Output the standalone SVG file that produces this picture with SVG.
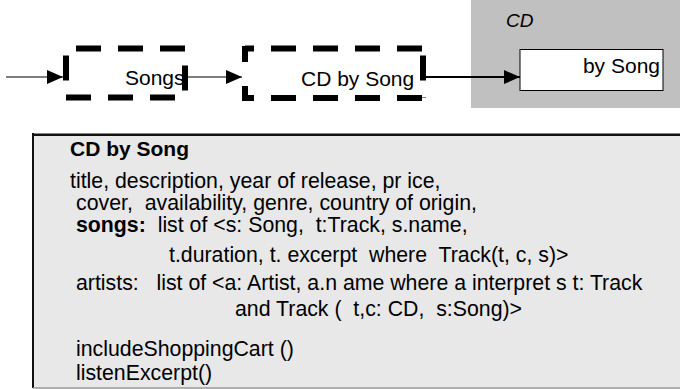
<svg xmlns="http://www.w3.org/2000/svg" width="680" height="389" viewBox="0 0 680 389">
<style>
text{font-family:"Liberation Sans",Arial,sans-serif;font-size:21px;fill:#000}
.t{font-size:21.3px}
.b{font-weight:bold}
.dash{fill:none;stroke:#000;stroke-width:6;stroke-dasharray:25 17;stroke-linecap:butt}
.solid{fill:none;stroke:#000;stroke-width:6}
.conn{stroke:#000;fill:none}
</style>
<defs>
<marker id="ah" viewBox="0 0 16 14" refX="16" refY="7" markerWidth="16" markerHeight="14" markerUnits="userSpaceOnUse" orient="auto">
<path d="M0,0 L16,7 L0,14 z" fill="#000"/>
</marker>
</defs>
<g id="cd-container">
<rect x="471" y="0" width="209" height="108" fill="#c0c0c0"/>
<text x="506" y="27" font-style="italic" style="font-size:19px">CD</text>
</g>
<g id="by-song">
<rect x="520" y="49.5" width="143" height="41" fill="#fff" stroke="#000" stroke-width="1"/>
<text x="660" y="73" text-anchor="end">by Song</text>
</g>
<g id="songs">
<rect class="dash" x="66" y="48.5" width="119" height="49" style="stroke-dashoffset:32"/>
<text x="125" y="85">Songs</text>
</g>
<g id="cd-by-song">
<line class="dash" x1="245" y1="48.5" x2="423" y2="48.5" style="stroke-dashoffset:16"/>
<line class="dash" x1="423" y1="48.5" x2="423" y2="98" style="stroke-dashoffset:35"/>
<line class="dash" x1="245" y1="98" x2="423" y2="98" style="stroke-dashoffset:16"/>
<line class="solid" x1="245" y1="46" x2="245" y2="62"/>
<line class="solid" x1="245" y1="86" x2="245" y2="101"/>
<text x="301" y="86">CD by Song</text>
</g>
<g id="connectors">
<line class="conn" x1="6" y1="77" x2="63" y2="77" stroke-width="1.2" marker-end="url(#ah)"/>
<line class="conn" x1="188" y1="77" x2="242" y2="77" stroke-width="1.2" marker-end="url(#ah)"/>
<line class="conn" x1="426" y1="77" x2="520" y2="77" stroke-width="2.2" marker-end="url(#ah)"/>
</g>
<g id="cd-by-song-class">
<rect x="33" y="134" width="660" height="254" fill="#e8e8e8"/>
<line x1="33" y1="133.5" x2="680" y2="133.5" stroke="#888" stroke-width="1"/>
<line x1="33" y1="135" x2="680" y2="135" stroke="#111" stroke-width="2"/>
<line x1="33" y1="133" x2="33" y2="388" stroke="#111" stroke-width="2"/>
<line x1="33" y1="388" x2="680" y2="388" stroke="#999" stroke-width="1.5"/>
<text x="70" y="156" class="b">CD by Song</text>
<text x="70" y="188" class="t">title, description, year  of release, pr ice,</text>
<text x="76" y="210" class="t" xml:space="preserve">cover,  availability, genre, country of origin,</text>
<text x="76" y="232" class="t" xml:space="preserve"><tspan class="b">songs:</tspan>  list of &lt;s: Song,  t:Track, s.name,</text>
<text x="169" y="262" class="t" xml:space="preserve">t.duration, t. excerpt  where  Track(t, c, s)&gt;</text>
<text x="76" y="290" class="t" xml:space="preserve">artists:   list of &lt;a: Artist, a.n ame where a interpret s t: Track</text>
<text x="235" y="316" class="t" xml:space="preserve">and Track (  t,c: CD,  s:Song)&gt;</text>
<text x="76" y="356" class="t">includeShoppingCart ()</text>
<text x="76" y="380" class="t">listenExcerpt()</text>
</g>
</svg>
